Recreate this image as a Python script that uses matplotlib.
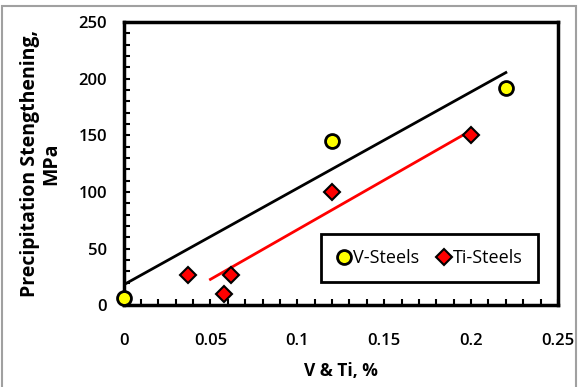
import numpy as np
import matplotlib.pyplot as plt
from matplotlib.ticker import MultipleLocator
from matplotlib.patches import Rectangle

plt.rcParams['font.family'] = ['Open Sans', 'DejaVu Sans']

v_x = [0.0, 0.12, 0.22]
v_y = [7, 145, 192]
ti_x = [0.037, 0.058, 0.062, 0.12, 0.2]
ti_y = [27, 10, 27, 100, 150]

fig = plt.figure(figsize=(5.78, 3.87), dpi=100)
fig.patches.append(Rectangle((0.004, -0.01), 0.992, 0.995, transform=fig.transFigure,
                             fill=False, edgecolor='#a0a0a0', lw=1.5))
ax = fig.add_axes([0.2137, 0.2106, 0.7517, 0.7324])

# linear trendlines
kv = np.polyfit(v_x, v_y, 1)
xv = np.array([0.0, 0.22])
ax.plot(xv, np.polyval(kv, xv), color='black', lw=2, zorder=2)
kt = np.polyfit(ti_x, ti_y, 1)
xt = np.array([0.05, 0.2])
ax.plot(xt, np.polyval(kt, xt), color='red', lw=2, zorder=2)

ax.plot(v_x, v_y, 'o', ms=10, mfc='yellow', mec='black', mew=2,
        label='V-Steels', zorder=4, clip_on=False)
ax.plot(ti_x, ti_y, 'D', ms=8.5, mfc='red', mec='black', mew=1.5,
        label='Ti-Steels', zorder=4, clip_on=False)

ax.set_xlim(0, 0.25)
ax.set_ylim(0, 250)
ax.xaxis.set_minor_locator(MultipleLocator(0.01))
ax.yaxis.set_major_locator(MultipleLocator(50))
ax.yaxis.set_minor_locator(MultipleLocator(10))
ax.set_xticks([0, 0.05, 0.1, 0.15, 0.2, 0.25])
ax.set_xticklabels(['0', '0.05', '0.1', '0.15', '0.2', '0.25'])
ax.tick_params(which='both', direction='in', width=1.5, length=4,
               top=False, right=False)
ax.tick_params(axis='x', which='major', pad=20)
ax.tick_params(axis='y', which='major', pad=12)
for lab in ax.get_xticklabels() + ax.get_yticklabels():
    lab.set_fontsize(12)
    lab.set_fontweight('semibold')
for s in ax.spines.values():
    s.set_linewidth(2.5)

ax.set_xlabel('V & Ti, %', fontsize=12.5, fontweight='bold', labelpad=9)
ax.set_ylabel('Precipitation Stengthening,\nMPa', fontsize=14,
              fontweight='bold', labelpad=12, linespacing=1.1)

leg = ax.legend(loc='lower right', bbox_to_anchor=(0.975, 0.05), ncol=2,
                fontsize=13, frameon=True, fancybox=False, handletextpad=0.1,
                columnspacing=1.0, borderpad=0.85, handlelength=0.8)
leg.get_frame().set_edgecolor('black')
leg.get_frame().set_linewidth(2)
leg.get_frame().set_alpha(1)

fig.savefig('out.png', dpi=100)
